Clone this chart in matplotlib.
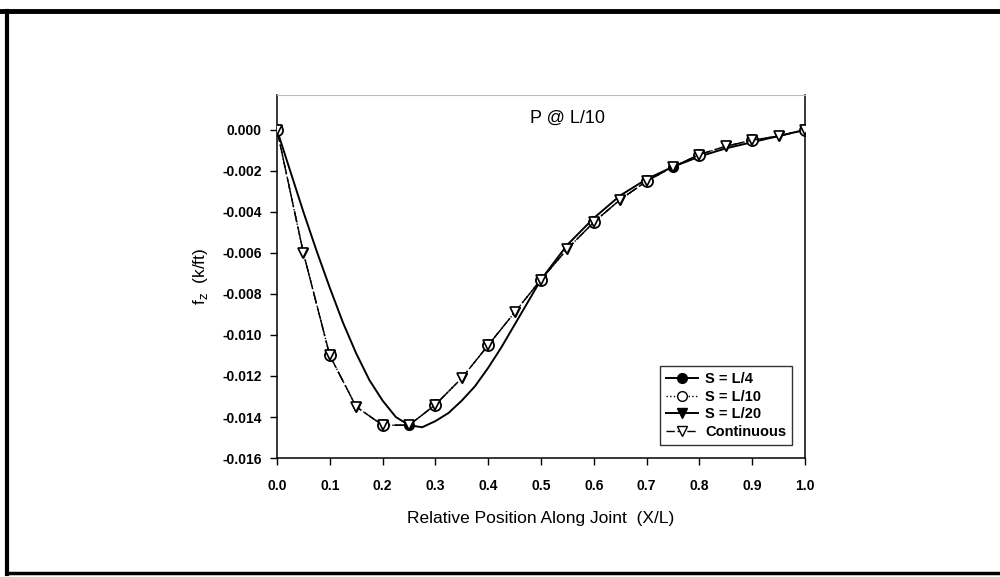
import matplotlib
matplotlib.use('Agg')
import matplotlib.pyplot as plt
from matplotlib.lines import Line2D

plt.rcParams['font.family'] = ['Liberation Sans', 'DejaVu Sans']

# continuous solution (and S = L/20), every 0.05
x_cont = [0.0, 0.05, 0.10, 0.15, 0.20, 0.25, 0.30, 0.35, 0.40, 0.45, 0.50,
          0.55, 0.60, 0.65, 0.70, 0.75, 0.80, 0.85, 0.90, 0.95, 1.0]
y_cont = [0.0, -0.0060, -0.0110, -0.0135, -0.0144, -0.0144, -0.0134, -0.0121,
          -0.0105, -0.0089, -0.0073, -0.0058, -0.0045, -0.0034, -0.0025,
          -0.0018, -0.0012, -0.0008, -0.0005, -0.0003, 0.0]
y_l20 = y_cont

# S = L/10, points every 0.1; its curve lies on the continuous one
x_l10 = [0.0, 0.1, 0.2, 0.3, 0.4, 0.5, 0.6, 0.7, 0.8, 0.9, 1.0]
y_l10 = [0.0, -0.0110, -0.0144, -0.0134, -0.0105, -0.0073, -0.0045, -0.0025,
         -0.0012, -0.0005, 0.0]
y_l10_curve = [0.0, -0.0060, -0.0110, -0.0135, -0.0144, -0.0144, -0.0134,
               -0.0121, -0.0105, -0.0089, -0.0073, -0.0058, -0.0045, -0.0034,
               -0.0025, -0.0018, -0.0012, -0.0008, -0.0005, -0.0003, 0.0]

# S = L/4 nodes and the smooth curve drawn through them
x_l4 = [0.0, 0.25, 0.5, 0.75, 1.0]
y_l4 = [0.0, -0.0144, -0.0073, -0.0018, 0.0]
x_l4_curve = [0.0, 0.025, 0.05, 0.075, 0.10, 0.125, 0.15, 0.175, 0.20, 0.225,
              0.25, 0.275, 0.30, 0.325, 0.35, 0.375, 0.40, 0.425, 0.45, 0.475,
              0.50, 0.55, 0.60, 0.65, 0.70, 0.75, 0.80, 0.85, 0.90, 0.95, 1.0]
y_l4_curve = [0.0, -0.0020, -0.0040, -0.0059, -0.0077, -0.0094, -0.0109,
              -0.0122, -0.0132, -0.0140, -0.0144, -0.0145, -0.0142, -0.0138,
              -0.0132, -0.0125, -0.0116, -0.0106, -0.0095, -0.0084, -0.0073,
              -0.0056, -0.0043, -0.0032, -0.0024, -0.0018, -0.0013, -0.0009,
              -0.0006, -0.0003, 0.0]

xticks = [0.0, 0.1, 0.2, 0.3, 0.4, 0.5, 0.6, 0.7, 0.8, 0.9, 1.0]
yticks = [0.000, -0.002, -0.004, -0.006, -0.008, -0.010, -0.012, -0.014, -0.016]

fig = plt.figure(figsize=(10, 5.77), dpi=100)
ax = fig.add_axes([0.277, 0.2062, 0.528, 0.6291])

ax.plot(x_l4_curve, y_l4_curve, color='black', lw=1.4, zorder=2)
ax.plot(x_l4, y_l4, 'o', color='black', ms=7, zorder=3)
ax.plot(x_cont, y_l20, color='black', lw=1.0, ls=(0, (8, 4)), marker='v',
        ms=7, mfc='black', mec='black', zorder=3)
ax.plot(x_cont, y_l10_curve, color='black', lw=1.0, ls=':', zorder=3)
ax.plot(x_l10, y_l10, 'o', ms=8, mfc='white', mec='black', mew=1.3, zorder=4)
ax.plot(x_cont, y_cont, color='black', lw=1.0, ls=(0, (8, 3, 1.5, 3, 1.5, 3)),
        marker='v', ms=7, mfc='white', mec='black', mew=1.2, zorder=5)

ax.set_xlim(0, 1.0)
ax.set_ylim(-0.016, 0.0017)
ax.set_xticks(xticks)
ax.set_yticks(yticks)
ax.set_xticklabels(['%.1f' % v for v in xticks], fontsize=10, fontweight='bold')
ax.set_yticklabels(['%.3f' % v for v in yticks], fontsize=10, fontweight='bold')
ax.tick_params(direction='out', length=5, width=1, pad=6)
ax.tick_params(axis='x', pad=10)
for s in ['left', 'bottom', 'right']:
    ax.spines[s].set_linewidth(1.1)
ax.spines['top'].set_color('#bbbbbb')
ax.spines['top'].set_linewidth(0.8)

ax.set_xlabel('Relative Position Along Joint  (X/L)', fontsize=12.5, labelpad=13)
ax.set_ylabel('f$_{\\rm z}$  (k/ft)', fontsize=12.5, labelpad=9)
ax.text(0.55, 0.935, 'P @ L/10', transform=ax.transAxes, fontsize=13,
        ha='center', va='center')

handles = [
    Line2D([], [], color='black', lw=1.4, marker='o', ms=7),
    Line2D([], [], color='black', lw=1.0, ls=':', marker='o', ms=7,
           mfc='white', mec='black'),
    Line2D([], [], color='black', lw=1.4, marker='v', ms=7),
    Line2D([], [], color='black', lw=1.0, ls=(0, (6, 2, 1.5, 2, 1.5, 2)),
           marker='v', ms=7, mfc='white', mec='black'),
]
labels = ['S = L/4', 'S = L/10', 'S = L/20', 'Continuous']
leg = ax.legend(handles, labels, loc='lower right',
                prop={'weight': 'bold', 'size': 10.5}, frameon=True, fancybox=False,
                edgecolor='black', borderaxespad=0.9, handlelength=2.2,
                labelspacing=0.25, handletextpad=0.5, borderpad=0.4)
leg.get_frame().set_linewidth(1.0)

# page border from the scanned figure
fig.add_artist(Line2D([0.0, 1.0], [0.981, 0.981], color='black', lw=3.5))
fig.add_artist(Line2D([0.007, 0.007], [0.006, 0.981], color='black', lw=3.0))
fig.add_artist(Line2D([0.007, 1.0], [0.007, 0.007], color='black', lw=2.5))

fig.savefig('out.png', dpi=100)
